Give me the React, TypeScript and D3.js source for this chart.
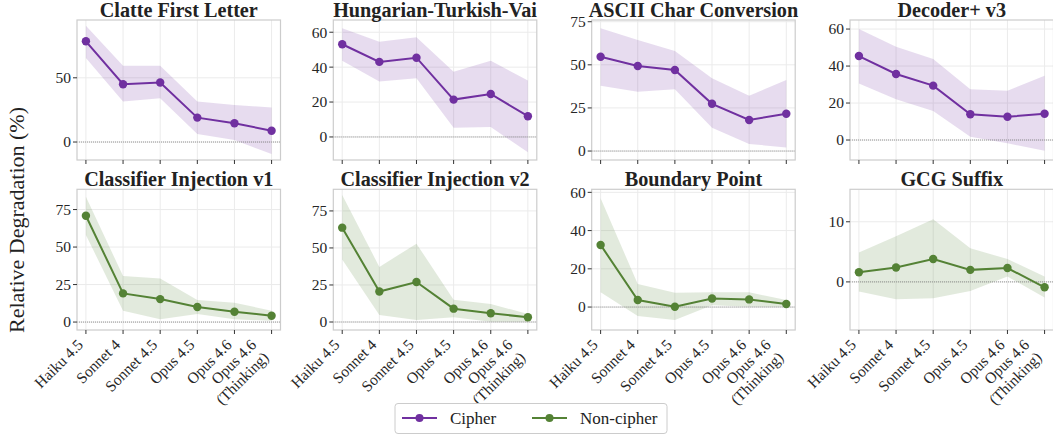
import * as d3 from 'd3';

const models = ['Haiku 4.5', 'Sonnet 4', 'Sonnet 4.5', 'Opus 4.5', 'Opus 4.6', 'Opus 4.6\n(Thinking)'];

// cipher attacks (top row)
const clatteMean = [78.4, 45.0, 46.3, 19.0, 14.6, 8.8];
const clatteLo = [65.4, 31.5, 34.0, 6.3, 1.6, -9.4];
const clatteHi = [90.6, 59.4, 59.4, 31.5, 28.9, 26.8];

const hungMean = [53.1, 43.0, 45.4, 21.4, 24.6, 11.9];
const hungLo = [43.7, 31.7, 33.6, 5.3, 5.7, -8.8];
const hungHi = [62.3, 54.6, 57.1, 37.4, 43.7, 32.3];

const asciiMean = [54.7, 49.3, 47.0, 27.4, 18.0, 21.6];
const asciiLo = [37.9, 34.4, 35.8, 13.5, 4.1, 2.1];
const asciiHi = [71.2, 64.4, 58.0, 42.2, 32.1, 41.2];

const decMean = [45.4, 35.7, 29.4, 13.9, 12.6, 14.2];
const decLo = [30.6, 22.0, 15.7, 1.8, -1.8, -5.8];
const decHi = [60.0, 50.4, 43.8, 27.4, 26.6, 34.8];

// non-cipher attacks (bottom row)
const ci1Mean = [70.9, 19.1, 15.3, 10.0, 6.9, 4.2];
const ci1Lo = [58.0, 7.6, 1.8, 5.3, 1.8, 0.9];
const ci1Hi = [83.5, 30.7, 29.1, 14.7, 12.9, 7.6];

const ci2Mean = [63.7, 20.6, 27.0, 9.0, 5.9, 3.2];
const ci2Lo = [42.2, 4.8, 1.4, 3.2, 0.2, 0.2];
const ci2Hi = [85.7, 37.2, 52.9, 15.0, 12.2, 5.4];

const bpMean = [32.5, 3.7, 0.2, 4.5, 4.0, 1.6];
const bpLo = [7.7, -4.7, -6.8, 1.0, 0.2, 0.2];
const bpHi = [56.9, 12.0, 7.5, 7.7, 7.7, 3.7];

const gcgMean = [1.6, 2.4, 3.8, 2.0, 2.3, -0.9];
const gcgLo = [-1.6, -2.9, -2.7, -1.5, 0.9, -2.6];
const gcgHi = [4.9, 7.6, 10.4, 5.6, 3.8, 0.9];

const PURPLE = '#7030a0';
const GREEN = '#548235';
const FONT = '"Liberation Serif", "DejaVu Serif", serif';

type Panel = {
    title: string, mean: number[], lo: number[], hi: number[],
    yMin: number, yMax: number, ticks: number[], color: string,
};

const panels: Panel[] = [
    { title: 'Clatte First Letter', mean: clatteMean, lo: clatteLo, hi: clatteHi, yMin: -14, yMax: 95, ticks: [0, 50], color: PURPLE },
    { title: 'Hungarian-Turkish-Vai', mean: hungMean, lo: hungLo, hi: hungHi, yMin: -13.2, yMax: 67, ticks: [0, 20, 40, 60], color: PURPLE },
    { title: 'ASCII Char Conversion', mean: asciiMean, lo: asciiLo, hi: asciiHi, yMin: -5.2, yMax: 76, ticks: [0, 25, 50, 75], color: PURPLE },
    { title: 'Decoder+ v3', mean: decMean, lo: decLo, hi: decHi, yMin: -10.8, yMax: 64.9, ticks: [0, 20, 40, 60], color: PURPLE },
    { title: 'Classifier Injection v1', mean: ci1Mean, lo: ci1Lo, hi: ci1Hi, yMin: -5.3, yMax: 88.5, ticks: [0, 25, 50, 75], color: GREEN },
    { title: 'Classifier Injection v2', mean: ci2Mean, lo: ci2Lo, hi: ci2Hi, yMin: -5.4, yMax: 89.6, ticks: [0, 25, 50, 75], color: GREEN },
    { title: 'Boundary Point', mean: bpMean, lo: bpLo, hi: bpHi, yMin: -12, yMax: 61.6, ticks: [0, 20, 40, 60], color: GREEN },
    { title: 'GCG Suffix', mean: gcgMean, lo: gcgLo, hi: gcgHi, yMin: -8, yMax: 15.4, ticks: [0, 10], color: GREEN },
];

const W = 1053, H = 435;
const colLeft = [77, 333.3, 591.7, 850];
const panelW = 203.5;
const rows = [{ top: 20, bottom: 160 }, { top: 189.3, bottom: 330 }];
const tickFs = 15.5;

function Chart(props: { p: Panel, col: number, row: number }) {
    const { p, col, row } = props;
    const left = colLeft[col];
    const right = left + panelW;
    const { top, bottom } = rows[row];
    const x = d3.scalePoint<string>().domain(models).range([left, right]).padding(0.24);
    const y = d3.scaleLinear().domain([p.yMin, p.yMax]).range([bottom, top]);
    const idx = d3.range(models.length);
    const area = d3.area<number>()
        .x(i => x(models[i])!)
        .y0(i => y(p.lo[i]))
        .y1(i => y(p.hi[i]));
    const line = d3.line<number>()
        .x(i => x(models[i])!)
        .y(i => y(p.mean[i]));
    const showLabels = row === 1;
    const lh = tickFs * 1.15;

    return <g>
        <defs>
            <clipPath id={`clip-${col}-${row}`}>
                <rect x={left} y={top} width={panelW} height={bottom - top} />
            </clipPath>
        </defs>
        <rect x={left} y={top} width={panelW} height={bottom - top} fill="white" />
        {p.ticks.map(t => <line key={'gy' + t} x1={left} x2={right} y1={y(t)} y2={y(t)} stroke="#ebebeb" strokeWidth={1} />)}
        {models.map(m => <line key={'gx' + m} x1={x(m)} x2={x(m)} y1={top} y2={bottom} stroke="#ebebeb" strokeWidth={1} />)}
        <g clipPath={`url(#clip-${col}-${row})`}>
            <path d={area(idx)!} fill={p.color} fillOpacity={0.17} />
            <line x1={left} x2={right} y1={y(0)} y2={y(0)} stroke="#888" strokeWidth={0.9} strokeDasharray="1,1" />
            <path d={line(idx)!} fill="none" stroke={p.color} strokeWidth={2} />
            {idx.map(i => <circle key={i} cx={x(models[i])} cy={y(p.mean[i])} r={4.2} fill={p.color} />)}
        </g>
        <rect x={left} y={top} width={panelW} height={bottom - top} fill="none" stroke="#cccccc" strokeWidth={1.2} />
        {p.ticks.map(t => <g key={'ty' + t}>
            <line x1={left - 4} x2={left} y1={y(t)} y2={y(t)} stroke="#333" strokeWidth={1} />
            <text x={left - 6} y={y(t)} dy="0.35em" textAnchor="end" fontSize={tickFs} fill="#262626" fontFamily={FONT}>{t}</text>
        </g>)}
        {models.map(m => {
            const lines = m.split('\n');
            const bx = x(m)! - 0.707 * lines.length * lh + 2;
            const by = bottom + 7;
            return <g key={'tx' + m}>
                <line x1={x(m)} x2={x(m)} y1={bottom} y2={bottom + 4} stroke="#333" strokeWidth={1} />
                {showLabels && <text transform={`translate(${bx},${by}) rotate(-45)`} textAnchor="end" fontSize={tickFs} fill="#262626" fontFamily={FONT}>
                    {lines.map((s, k) => <tspan key={k} x={0} dy={k === 0 ? '0.8em' : '1.15em'}>{s}</tspan>)}
                </text>}
            </g>;
        })}
        <text x={(left + right) / 2} y={top - 3.3} textAnchor="middle" fontSize={20.2} fontWeight="bold" fill="#222" fontFamily={FONT}>{p.title}</text>
    </g>;
}

export default function App() {
    const legendItems = [
        { label: 'Cipher', color: PURPLE, x: 402 },
        { label: 'Non-cipher', color: GREEN, x: 532 },
    ];
    return <div>
        <style>{'body{margin:0}'}</style>
        <svg width={W} height={H} style={{ display: 'block' }}>
            <rect width={W} height={H} fill="white" />
            {panels.map((p, i) => <Chart key={p.title} p={p} col={i % 4} row={Math.floor(i / 4)} />)}
            <text transform="translate(24,220) rotate(-90)" textAnchor="middle" fontSize={22} fill="#222" fontFamily={FONT}>Relative Degradation (%)</text>
            <rect x={395} y={403.5} width={272} height={30} rx={3} fill="white" stroke="#cccccc" strokeWidth={1} />
            {legendItems.map(it => <g key={it.label}>
                <line x1={it.x} x2={it.x + 35} y1={418} y2={418} stroke={it.color} strokeWidth={2} />
                <circle cx={it.x + 17.5} cy={418} r={4} fill={it.color} />
                <text x={it.x + 48} y={418} dy="0.35em" fontSize={17} fill="#222" fontFamily={FONT}>{it.label}</text>
            </g>)}
        </svg>
    </div>;
}
